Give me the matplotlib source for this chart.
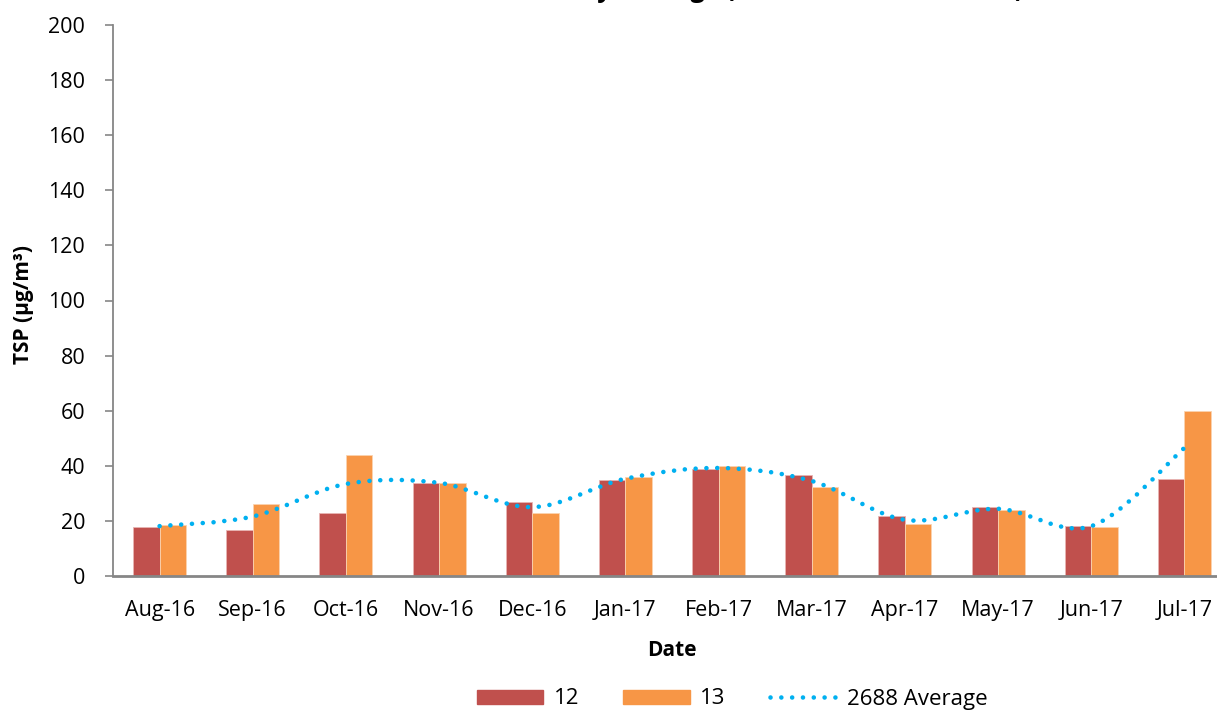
import matplotlib
matplotlib.use("Agg")
import matplotlib.pyplot as plt
from matplotlib.path import Path
from matplotlib.patches import PathPatch
from matplotlib.lines import Line2D
import numpy as np

months = ["Aug-16", "Sep-16", "Oct-16", "Nov-16", "Dec-16", "Jan-17",
          "Feb-17", "Mar-17", "Apr-17", "May-17", "Jun-17", "Jul-17"]
site12 = [17.7, 16.8, 22.9, 33.9, 26.7, 34.9, 38.7, 36.6, 21.7, 25.0, 18.1, 35.2]
site13 = [18.4, 26.1, 44.0, 33.6, 22.7, 35.8, 40.0, 32.2, 18.8, 23.9, 17.8, 60.0]
avg2688 = [18.1, 21.6, 33.4, 33.8, 25.0, 35.3, 39.2, 34.5, 20.4, 24.4, 18.1, 46.5]

plt.rcParams['font.family'] = ['Open Sans', 'DejaVu Sans']

W, H = 1217, 711
fig = plt.figure(figsize=(W / 100, H / 100), dpi=100)
left, right, bottom, top = 113, 1231, 576, 25
ax = fig.add_axes([left / W, 1 - bottom / H, (right - left) / W, (bottom - top) / H])

x = np.arange(len(months))
bw = 0.285
red = "#C0504D"
orange = "#F79646"
blue = "#00B0F0"
ax.bar(x - bw / 2, site12, bw, color=red, edgecolor="#E8B5B3", linewidth=0.6, zorder=2, label="12")
ax.bar(x + bw / 2, site13, bw, color=orange, edgecolor="#FBD3B0", linewidth=0.6, zorder=2, label="13")

# Smoothed (Excel-like) line through the average values
pts = np.column_stack([x, avg2688]).astype(float)
verts = [tuple(pts[0])]
codes = [Path.MOVETO]
n = len(pts)
for i in range(n - 1):
    p0 = pts[i - 1] if i > 0 else pts[i]
    p1 = pts[i]
    p2 = pts[i + 1]
    p3 = pts[i + 2] if i + 2 < n else pts[i + 1]
    c1 = p1 + (p2 - p0) / 6.0
    c2 = p2 - (p3 - p1) / 6.0
    verts += [tuple(c1), tuple(c2), tuple(p2)]
    codes += [Path.CURVE4] * 3
path = Path(verts, codes)
patch = PathPatch(path, facecolor="none", edgecolor=blue, linewidth=3.3,
                  linestyle=(0, (0.01, 2.35)), capstyle="round", zorder=3)
ax.add_patch(patch)

ax.set_xlim(-0.5, len(months) - 0.5)
ax.set_ylim(0, 200)
ax.set_yticks(np.arange(0, 201, 20))
ax.set_xticks(x)
ax.set_xticklabels(months)

for s in ["top", "right"]:
    ax.spines[s].set_visible(False)
ax.spines["left"].set_color("#868686")
ax.spines["left"].set_linewidth(1.3)
ax.spines["bottom"].set_color("#868686")
ax.spines["bottom"].set_linewidth(2.0)
ax.tick_params(axis="y", direction="out", length=6, width=1.2, color="#868686",
               labelsize=15.5, pad=14, labelcolor="black")
ax.tick_params(axis="x", length=0, labelsize=15.5, pad=17, labelcolor="black")

ax.set_xlabel("Date", fontsize=15, fontweight="bold")
ax.xaxis.set_label_coords((672 - left) / (right - left), -(651 - bottom) / (bottom - top))
ax.set_ylabel("TSP (µg/m³)", fontsize=15, fontweight="bold")
ax.yaxis.set_label_coords(-(113 - 24) / (right - left), (576 - 305) / (bottom - top))
ax.xaxis.label.set_va("center")
ax.yaxis.label.set_va("center")

fig.text(740 / W, 1 + 3.0 / H, "TSP Monthly Average (Sites 12 and 13 vs 2688)",
         ha="center", va="baseline", fontsize=18, fontweight="bold")

handles = [
    plt.Rectangle((0, 0), 1, 1, color=red),
    plt.Rectangle((0, 0), 1, 1, color=orange),
    Line2D([0], [0], color=blue, linewidth=3.3, linestyle=(0, (0.01, 2.35)),
           dash_capstyle="round"),
]
leg = fig.legend(handles, ["12", "13", "2688 Average"], loc="center",
                 bbox_to_anchor=(732 / W, 1 - 699 / H), ncol=3, frameon=False,
                 fontsize=16, handlelength=3.0, handleheight=0.6,
                 columnspacing=2.0, handletextpad=0.45)

fig.savefig("out.png", dpi=100)
